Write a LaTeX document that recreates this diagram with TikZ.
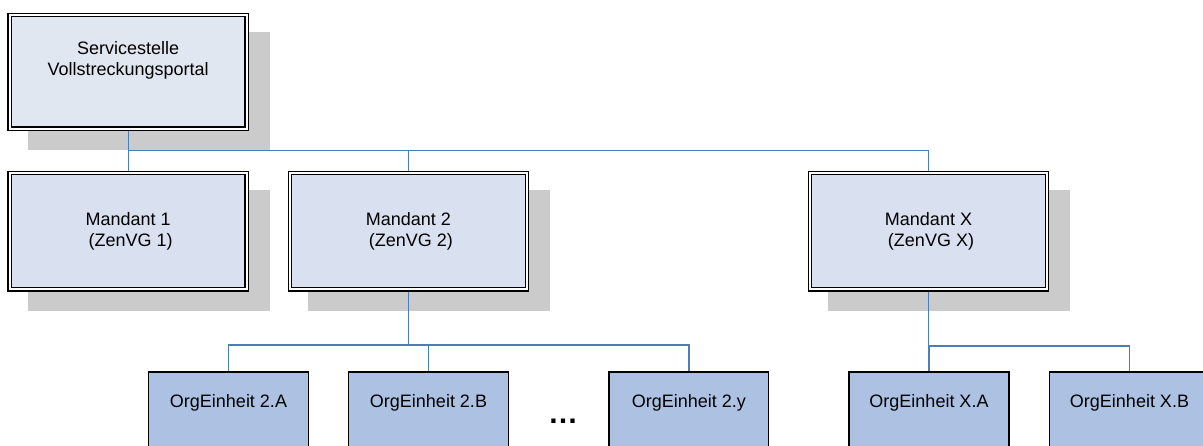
\documentclass[tikz,border=0pt]{standalone}
\usepackage{fontspec}
\setmainfont{Liberation Sans}
\usepackage{xcolor}
\usetikzlibrary{calc,backgrounds}

\definecolor{svcfill}{HTML}{E1E7F1}
\definecolor{mandfill}{HTML}{D9E1F1}
\definecolor{orgfill}{HTML}{ADC2E2}
\definecolor{shadowgray}{HTML}{CBCBCB}
\definecolor{linkblue}{HTML}{4A7EBB}

\begin{document}
\begin{tikzpicture}[x=1pt, y=1pt, font=\fontsize{18}{21}\selectfont,
      mandant/.style={draw=black, line width=1.4pt, double=white, double distance=1.8pt, fill=mandfill,
        outer sep=2.3pt, inner sep=0pt, minimum width=237pt, minimum height=116.4pt, align=center},
      orgbox/.style={draw=black, line width=1.4pt, fill=orgfill, inner sep=0pt, anchor=north,
        minimum width=159.7pt, minimum height=100pt, text height=13pt, text depth=43pt},
      link/.style={draw=linkblue, line width=1.4pt},
      shadowbox/.style={fill=shadowgray}]
    \path[use as bounding box, clip] (0,0) rectangle (1203,-446);

    \node[mandant, fill=svcfill, minimum height=113.7pt, text height=34pt, text depth=25.7pt] (svc) at (128.2,-71.85)
      {Servicestelle\\ Vollstreckungsportal};
    \node[mandant] (m1) at (128.2,-231.2) {Mandant 1\\ \ (ZenVG 1)};
    \node[mandant, right of=m1, node distance=280.1pt] (m2) {Mandant 2\\ \ (ZenVG 2)};
    \node[mandant, right of=m2, node distance=520.2pt] (mx) {Mandant X\\ \ (ZenVG X)};

    \node[orgbox] (o2a) at (228.5,-371.35) {OrgEinheit 2.A};
    \node[orgbox, right of=o2a, node distance=200pt] (o2b) {OrgEinheit 2.B};
    \node[orgbox, right of=o2b, node distance=260.3pt] (o2y) {OrgEinheit 2.y};
    \node[orgbox, right of=o2y, node distance=240.2pt] (oxa) {OrgEinheit X.A};
    \node[orgbox, right of=oxa, node distance=200.5pt] (oxb) {OrgEinheit X.B};
    \node[font=\bfseries\fontsize{30}{30}\selectfont, anchor=base] (dots) at (563,-424) {…};

    % shadows behind the double boxes
    \begin{scope}[on background layer]
      \foreach \n in {svc,m1,m2,mx}
        \fill[shadowbox] ($(\n.north west)+(20.5,-19.5)$) rectangle ($(\n.south east)+(20.5,-19.5)$);
    \end{scope}

    \draw[link] (svc.south) -- (m1.north);
    \draw[link] (svc.south) -- ++(0,-19.7) -| (mx.north);
    \draw[link] (svc.south) ++(0,-19.7) -| (m2.north);
    \foreach \o in {o2a,o2b,o2y}
      \draw[link] (m2.south) -- ++(0,-53.3) -| (\o.north);
    \foreach \o in {oxa,oxb}
      \draw[link] (mx.south) -- ++(0,-54.3) -| (\o.north);
  \end{tikzpicture}
\end{document}
